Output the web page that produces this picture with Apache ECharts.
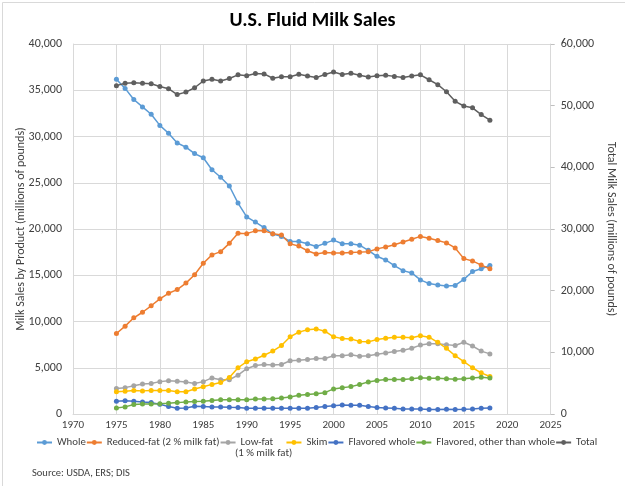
<!DOCTYPE html>
<html><head><meta charset="utf-8">
<script src="https://cdn.jsdelivr.net/npm/echarts@6/dist/echarts.min.js"></script>
<style>html,body{margin:0;padding:0;background:#fff}#c{width:625px;height:486px}</style>
</head><body><div id="c"></div>
<script>
var years = [1975,1976,1977,1978,1979,1980,1981,1982,1983,1984,1985,1986,1987,1988,1989,1990,1991,1992,1993,1994,1995,1996,1997,1998,1999,2000,2001,2002,2003,2004,2005,2006,2007,2008,2009,2010,2011,2012,2013,2014,2015,2016,2017,2018];
var whole = [36200,35200,34000,33200,32400,31200,30350,29300,28850,28150,27700,26400,25600,24650,22800,21300,20750,20150,19450,19200,18650,18650,18400,18100,18450,18800,18400,18400,18250,17700,17050,16650,16050,15500,15250,14500,14100,13950,13850,13900,14550,15400,15700,16050];
var reducedFat = [8700,9500,10400,11000,11700,12450,13050,13450,14150,15050,16300,17200,17550,18450,19550,19500,19800,19800,19500,19350,18400,18150,17650,17300,17450,17400,17400,17450,17500,17550,17850,18050,18300,18600,18900,19200,19000,18750,18500,17950,16800,16550,16100,15700];
var lowFat = [2750,2850,3050,3250,3300,3500,3600,3550,3450,3300,3500,3900,3700,3700,4200,4900,5250,5350,5300,5350,5750,5800,5900,6000,6000,6300,6300,6400,6250,6300,6450,6600,6750,6900,7100,7450,7600,7600,7500,7400,7750,7350,6800,6500];
var skim = [2400,2450,2550,2500,2550,2550,2550,2400,2400,2700,2950,3200,3400,3950,5000,5650,5950,6350,6800,7400,8350,8850,9100,9200,8950,8350,8150,8100,7850,7800,8050,8200,8300,8300,8250,8450,8300,7750,7100,6300,5650,5000,4450,4050];
var flavoredWhole = [1380,1420,1380,1300,1230,1050,800,620,660,830,800,770,770,720,690,620,620,620,620,620,620,620,620,690,800,900,980,950,950,800,690,660,620,550,550,550,480,480,510,480,510,550,620,660];
var flavoredOther = [660,770,1020,1090,1090,1120,1160,1230,1310,1340,1370,1450,1550,1550,1550,1550,1630,1630,1660,1740,1850,2020,2100,2200,2310,2710,2850,2960,3180,3470,3610,3720,3720,3720,3820,3930,3860,3860,3820,3750,3820,3900,3960,3900];
var total = [53250,53650,53700,53650,53550,53100,52750,51800,52200,52900,54000,54300,54000,54400,55000,54850,55200,55150,54450,54700,54700,55100,54800,54550,55050,55450,55050,55250,54950,54650,54850,54950,54750,54550,54800,55000,54200,53400,52250,50700,49950,49650,48550,47650];
var xTicks = {min:1970, max:2025, step:5};
var leftTicks = {min:0, max:40000, step:5000};
var rightTicks = {min:0, max:60000, step:10000};

var FONT = 'Carlito';
var TXT = '#404040';
function pairs(arr){ return years.map(function(y,i){ return [y, arr[i]]; }); }
function ser(name, data, color, yi){
  return {name:name, type:'line', yAxisIndex:yi||0, data:pairs(data), symbol:'circle', symbolSize:5,
    lineStyle:{color:color, width:1.5}, itemStyle:{color:color}, emphasis:{disabled:true}};
}
function thousands(v){ return v.toLocaleString('en-US'); }
var chart = echarts.init(document.getElementById('c'), null, {renderer:'canvas'});
chart.setOption({
  animation:false,
  backgroundColor:'#fff',
  textStyle:{fontFamily:FONT},
  title:{text:'U.S. Fluid Milk Sales', left:'center', top:6, textStyle:{fontFamily:FONT, fontSize:20, fontWeight:'bold', color:'#000'}},
  grid:{left:73, right:67, top:44, bottom:72},
  legend:{top:432, left:31, itemGap:0, itemWidth:15, itemHeight:6,
    textStyle:{fontFamily:FONT, fontSize:10.8, color:TXT},
    formatter:function(n){ return n==='Low-fat' ? 'Low-fat\u00a0\u00a0\u00a0\u00a0\u00a0' : n; },
    data:['Whole','Reduced-fat (2 % milk fat)','Low-fat','Skim','Flavored whole','Flavored, other than whole','Total']},
  graphic:[
    {type:'rect', left:0, top:0, shape:{width:624, height:485}, style:{fill:'none', stroke:'#d9d9d9', lineWidth:1}, silent:true},
    {type:'text', left:235, top:448, style:{text:'(1 % milk fat)', font:'10.8px '+FONT, fill:TXT}},
    {type:'text', left:32, top:468, style:{text:'Source: USDA, ERS; DIS', font:'10.5px '+FONT, fill:TXT}}
  ],
  xAxis:{type:'value', min:xTicks.min, max:xTicks.max, interval:xTicks.step,
    axisLine:{show:true, lineStyle:{color:'#d9d9d9'}}, axisTick:{show:false},
    axisLabel:{color:TXT, fontSize:11, fontFamily:FONT, margin:6, formatter:function(v){return String(v);}},
    splitLine:{show:true, lineStyle:{color:'#d9d9d9'}}},
  yAxis:[
    {type:'value', min:leftTicks.min, max:leftTicks.max, interval:leftTicks.step,
     name:'Milk Sales by Product (millions of pounds)', nameLocation:'middle', nameGap:46, nameRotate:90, nameMoveOverlap:false,
     nameTextStyle:{color:TXT, fontSize:12, fontFamily:FONT},
     axisLine:{show:true, lineStyle:{color:'#d9d9d9'}}, axisTick:{show:false},
     axisLabel:{color:TXT, fontSize:12, fontFamily:FONT, margin:11, formatter:thousands},
     splitLine:{show:true, lineStyle:{color:'#d9d9d9'}}},
    {type:'value', min:rightTicks.min, max:rightTicks.max, interval:rightTicks.step, position:'right',
     name:'Total Milk Sales (millions of pounds)', nameLocation:'middle', nameGap:46, nameRotate:-90,
     nameTextStyle:{color:TXT, fontSize:12, fontFamily:FONT},
     axisLine:{show:true, lineStyle:{color:'#d9d9d9'}}, axisTick:{show:true, length:4, lineStyle:{color:'#bfbfbf'}},
     axisLabel:{color:TXT, fontSize:12, fontFamily:FONT, margin:10, formatter:thousands},
     splitLine:{show:false}}
  ],
  series:[
    ser('Whole', whole, '#5B9BD5'),
    ser('Reduced-fat (2 % milk fat)', reducedFat, '#ED7D31'),
    ser('Low-fat', lowFat, '#A5A5A5'),
    ser('Skim', skim, '#FFC000'),
    ser('Flavored whole', flavoredWhole, '#4472C4'),
    ser('Flavored, other than whole', flavoredOther, '#70AD47'),
    ser('Total', total, '#5F5F5F', 1)
  ]
});
</script></body></html>
